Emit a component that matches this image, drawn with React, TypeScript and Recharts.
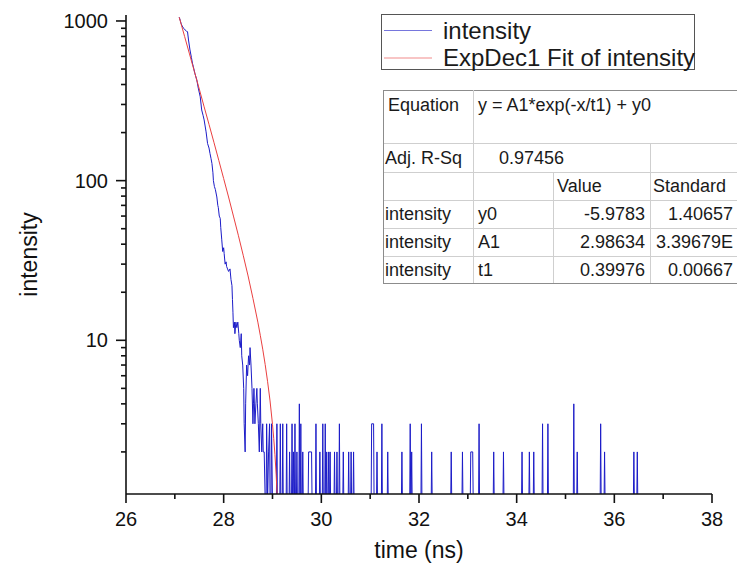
import React from 'react';
import { LineChart, Line, XAxis, YAxis } from 'recharts';

const FONT = '"Liberation Sans", Arial, Helvetica, sans-serif';
const BLUE = '#1c1cc8';
const RED = '#ea4040';
const AXIS = '#111111';

const xTicks = [26, 27, 28, 29, 30, 31, 32, 33, 34, 35, 36, 37, 38];
const xLabeledTicks = [26, 28, 30, 32, 34, 36, 38];
const yTicks = [2, 3, 4, 5, 6, 7, 8, 9, 10, 20, 30, 40, 50, 60, 70, 80, 90, 100, 200, 300, 400, 500, 600, 700, 800, 900, 1000];
const yLabeledTicks = [10, 100, 1000];
const xDomain = [26, 38];
const yDomain = [1.09, 1090];

const xTitle = 'time (ns)';
const yTitle = 'intensity';
const legendLabels = ['intensity', 'ExpDec1 Fit of intensity'];

const equationText = 'y = A1*exp(-x/t1) + y0';
const adjRSq = '0.97456';
const paramRowNames = ['intensity', 'intensity', 'intensity'];
const paramNames = ['y0', 'A1', 't1'];
const paramValues = ['-5.9783', '2.98634', '0.39976'];
const paramErrors = ['1.40657', '3.39679E', '0.00667'];

// measured counts (time ns, counts); baseline counts (0) drawn at 1, below the axis
const decayPoints: [number, number][] = [
  [27.09, 1055], [27.11, 1010], [27.13, 960], [27.15, 930], [27.18, 900], [27.21, 879], [27.24, 862], [27.26, 857],
  [27.28, 760], [27.31, 658], [27.34, 590], [27.36, 545], [27.38, 516], [27.41, 470], [27.45, 427], [27.48, 380],
  [27.52, 335], [27.55, 277], [27.58, 255], [27.6, 240], [27.62, 220], [27.64, 202], [27.67, 171], [27.7, 160],
  [27.72, 148], [27.74, 138], [27.76, 128], [27.78, 112], [27.79, 100], [27.81, 92], [27.83, 88], [27.86, 79],
  [27.88, 70], [27.89, 68], [27.91, 60], [27.93, 58], [27.94, 51], [27.96, 43], [27.98, 36], [28.0, 38],
  [28.01, 35], [28.03, 30], [28.05, 31], [28.06, 29], [28.08, 28], [28.1, 27], [28.13, 28], [28.15, 24],
  [28.17, 22], [28.18, 18], [28.19, 15], [28.2, 12], [28.22, 13], [28.23, 11], [28.25, 13], [28.27, 12],
  [28.29, 13], [28.31, 11], [28.32, 10], [28.34, 9], [28.36, 11], [28.37, 8], [28.39, 7], [28.41, 5],
  [28.42, 3], [28.44, 2], [28.45, 4], [28.47, 7], [28.49, 6], [28.51, 8], [28.53, 7], [28.54, 9],
  [28.56, 7], [28.58, 5], [28.6, 3], [28.61, 4], [28.62, 5], [28.64, 3], [28.66, 4], [28.68, 5],
  [28.69, 4], [28.71, 3], [28.73, 2], [28.75, 5], [28.76, 3], [28.78, 2], [28.8, 3], [28.81, 2],
  [28.83, 2], [28.85, 1], [28.87, 1], [28.88, 3], [28.9, 1], [28.92, 2], [28.94, 3], [28.95, 1],
  [28.97, 1], [28.98, 3], [29.0, 1],
];

const tailPoints: [number, number][] = [
  [29.08, 1], [29.09, 3], [29.1, 1], [29.15, 1], [29.16, 3], [29.17, 1], [29.2, 1], [29.21, 3], [29.22, 1],
  [29.28, 1], [29.29, 3], [29.3, 1], [29.34, 1], [29.35, 2], [29.36, 1], [29.39, 1], [29.4, 3], [29.41, 1],
  [29.42, 1], [29.43, 2], [29.44, 1], [29.45, 1], [29.46, 3], [29.47, 1], [29.49, 1], [29.5, 2], [29.51, 1],
  [29.54, 1], [29.55, 4], [29.56, 1], [29.57, 1], [29.58, 3], [29.59, 1], [29.61, 1], [29.62, 2], [29.63, 1],
  [29.73, 1], [29.74, 2], [29.8, 2], [29.81, 1], [29.88, 1], [29.89, 3], [29.9, 1], [29.96, 1], [29.97, 2],
  [29.98, 1], [30.02, 1], [30.03, 3], [30.04, 1], [30.07, 1], [30.08, 3], [30.09, 1], [30.1, 1], [30.11, 2],
  [30.12, 1], [30.14, 1], [30.15, 2], [30.16, 1], [30.17, 1], [30.18, 2], [30.19, 1], [30.26, 1], [30.27, 2],
  [30.28, 1], [30.31, 1], [30.32, 2], [30.33, 1], [30.36, 1], [30.37, 3], [30.38, 1], [30.44, 1], [30.45, 2],
  [30.46, 1], [30.55, 1], [30.56, 2], [30.57, 1], [30.6, 1], [30.61, 2], [30.62, 1], [30.65, 1], [30.66, 2],
  [30.67, 1], [31.02, 1], [31.03, 3], [31.07, 3], [31.08, 1], [31.13, 1], [31.14, 2], [31.15, 1], [31.23, 1],
  [31.24, 3], [31.25, 1], [31.35, 1], [31.36, 2], [31.37, 1], [31.64, 1], [31.65, 2], [31.66, 1], [31.81, 1],
  [31.82, 3], [31.83, 1], [31.84, 1], [31.85, 2], [31.86, 1], [32.04, 1], [32.05, 3], [32.06, 1], [32.25, 1],
  [32.26, 2], [32.27, 1], [32.65, 1], [32.66, 2], [32.67, 1], [32.88, 1], [32.89, 2], [32.9, 1], [33.05, 1],
  [33.06, 2], [33.1, 2], [33.11, 1], [33.22, 1], [33.23, 3], [33.24, 1], [33.52, 1], [33.53, 2], [33.54, 1],
  [33.72, 1], [33.73, 2], [33.74, 1], [34.1, 1], [34.11, 2], [34.12, 1], [34.25, 1], [34.26, 2], [34.27, 1],
  [34.34, 1], [34.35, 2], [34.36, 1], [34.52, 1], [34.53, 3], [34.54, 1], [34.63, 1], [34.64, 3], [34.65, 1],
  [35.16, 1], [35.17, 4], [35.18, 1], [35.23, 1], [35.24, 2], [35.25, 1], [35.71, 1], [35.72, 3], [35.73, 1],
  [35.79, 1], [35.8, 2], [35.81, 1], [36.39, 1], [36.4, 2], [36.41, 1], [36.46, 1], [36.47, 2], [36.48, 1],
  [36.5, 1],
];

// ExpDec1 fit curve
const fitPoints: [number, number][] = [
  [27.09, 1055], [27.2, 800], [27.3, 622], [27.4, 483], [27.5, 375], [27.6, 290], [27.7, 225], [27.8, 174],
  [27.9, 134], [28.0, 103], [28.1, 79], [28.2, 60], [28.3, 45.5], [28.4, 34.1], [28.5, 25.3], [28.6, 18.3],
  [28.7, 13.0], [28.75, 10.75], [28.8, 8.8], [28.85, 7.05], [28.9, 5.5], [28.95, 4.17], [29.0, 2.97],
  [29.025, 2.43], [29.05, 1.92], [29.075, 1.44], [29.1, 0.99],
];

const intensityData = [...decayPoints, ...tailPoints].map(([t, v]) => ({ t, v }));
const fitData = fitPoints.map(([t, v]) => ({ t, v }));

const W = 737;
const H = 555;
const MARGIN = { top: 7, right: 33, bottom: 39, left: 58 };
const Y_AXIS_W = 60;
const PLOT_LEFT = MARGIN.left + Y_AXIS_W;
const PLOT_RIGHT = W - MARGIN.right;
const PLOT_TOP = MARGIN.top;
const PLOT_BOTTOM = H - MARGIN.bottom - 30;

const XTick = (props: any) => {
  const { x, y, payload } = props;
  const v = payload.value;
  const major = xLabeledTicks.includes(v);
  return (
    <g>
      <line x1={x} y1={y} x2={x} y2={y + (major ? 9 : 5)} stroke={AXIS} strokeWidth={1.6} />
      {major && (
        <text x={x} y={y + 25} dominantBaseline="central" textAnchor="middle" fontSize={20} fontFamily={FONT} fill="#111">
          {v}
        </text>
      )}
    </g>
  );
};

const YTick = (props: any) => {
  const { x, y, payload } = props;
  const v = payload.value;
  const major = yLabeledTicks.includes(v);
  return (
    <g>
      <line x1={x} y1={y} x2={x - (major ? 10 : 5)} y2={y} stroke={AXIS} strokeWidth={1.6} />
      {major && (
        <text x={x - 18} y={y} dominantBaseline="central" textAnchor="end" fontSize={20} fontFamily={FONT} fill="#111">
          {v}
        </text>
      )}
    </g>
  );
};

const XTitle = () => (
  <text x={(PLOT_LEFT + PLOT_RIGHT) / 2} y={PLOT_BOTTOM + 56} dominantBaseline="central" textAnchor="middle" fontSize={23} fontFamily={FONT} fill="#111">
    {xTitle}
  </text>
);

const YTitle = () => (
  <text
    transform={`translate(21, ${(PLOT_TOP + PLOT_BOTTOM) / 2}) rotate(-90)`}
    dominantBaseline="central"
    textAnchor="middle"
    fontSize={23}
    fontFamily={FONT}
    fill="#111"
  >
    {yTitle}
  </text>
);

const Overlay = () => {
  const tl = 375;
  const colX = [375, 465, 545, 642];
  const right = 735;
  const rowY = [82, 135, 164, 192, 220, 248, 275];
  const inner = '#cfcfcf';
  const outer = '#8c8c8c';
  const fs = 18;
  const mid = (i: number) => (rowY[i] + rowY[i + 1]) / 2;
  const legendColors = [BLUE, RED];
  return (
    <svg width={W} height={H} style={{ position: 'absolute', left: 0, top: 0, pointerEvents: 'none' }}>
      {/* legend */}
      <rect x={373.5} y={6.5} width={313} height={55} fill="#fff" stroke="#555" strokeWidth={1} />
      {legendLabels.map((lab, i) => (
        <g key={lab}>
          <line x1={376} x2={424} y1={22.5 + i * 27.5} y2={22.5 + i * 27.5} stroke={legendColors[i]} strokeWidth={1} opacity={0.6} />
          <text x={435} y={22 + i * 27.5} dominantBaseline="central" fontSize={24} fontFamily={FONT} fill="#1a1a1a">
            {lab}
          </text>
        </g>
      ))}
      {/* table */}
      <rect x={tl} y={rowY[0]} width={W - tl} height={rowY[6] - rowY[0]} fill="#fff" />
      {rowY.slice(1, 6).map((y) => (
        <line key={y} x1={tl} x2={W} y1={y + 0.5} y2={y + 0.5} stroke={inner} strokeWidth={1} />
      ))}
      <line x1={tl} x2={W} y1={rowY[0] + 0.5} y2={rowY[0] + 0.5} stroke={outer} strokeWidth={1} />
      <line x1={tl} x2={W} y1={rowY[6] + 0.5} y2={rowY[6] + 0.5} stroke={outer} strokeWidth={1} />
      <line x1={tl + 0.5} x2={tl + 0.5} y1={rowY[0]} y2={rowY[6]} stroke={outer} strokeWidth={1} />
      <line x1={colX[1] + 0.5} x2={colX[1] + 0.5} y1={rowY[0]} y2={rowY[6]} stroke={inner} strokeWidth={1} />
      <line x1={colX[2] + 0.5} x2={colX[2] + 0.5} y1={rowY[2]} y2={rowY[6]} stroke={inner} strokeWidth={1} />
      <line x1={colX[3] + 0.5} x2={colX[3] + 0.5} y1={rowY[1]} y2={rowY[6]} stroke={inner} strokeWidth={1} />
      <line x1={right + 0.5} x2={right + 0.5} y1={rowY[0]} y2={rowY[1]} stroke={inner} strokeWidth={1} />
      <g fontSize={fs} fontFamily={FONT} fill="#1a1a1a">
        <text x={380} y={97} dominantBaseline="central">Equation</text>
        <text x={470} y={97} dominantBaseline="central">{equationText}</text>
        <text x={377} y={mid(1)} dominantBaseline="central">Adj. R-Sq</text>
        <text x={556} y={mid(1)} dominantBaseline="central" textAnchor="end">{adjRSq}</text>
        <text x={549} y={mid(2)} dominantBaseline="central">Value</text>
        <text x={645} y={mid(2)} dominantBaseline="central">Standard</text>
        {paramNames.map((p, i) => (
          <g key={p}>
            <text x={377} y={mid(3 + i)} dominantBaseline="central">{paramRowNames[i]}</text>
            <text x={470} y={mid(3 + i)} dominantBaseline="central">{p}</text>
            <text x={637} y={mid(3 + i)} dominantBaseline="central" textAnchor="end">{paramValues[i]}</text>
            <text x={725} y={mid(3 + i)} dominantBaseline="central" textAnchor="end">{paramErrors[i]}</text>
          </g>
        ))}
      </g>
    </svg>
  );
};

export default function App() {
  return (
    <div style={{ position: 'relative', width: W, height: H, overflow: 'hidden', background: '#fff' }}>
      <LineChart width={W} height={H} margin={MARGIN}>
        <XAxis
          dataKey="t"
          type="number"
          domain={xDomain}
          ticks={xTicks}
          interval={0}
          allowDataOverflow
          tickSize={0}
          tickMargin={0}
          tickLine={false}
          axisLine={{ stroke: AXIS, strokeWidth: 1.6 }}
          tick={XTick}
          label={XTitle}
        />
        <YAxis
          type="number"
          scale="log"
          domain={yDomain}
          ticks={yTicks}
          interval={0}
          allowDataOverflow
          width={Y_AXIS_W}
          tickSize={0}
          tickMargin={0}
          tickLine={false}
          axisLine={{ stroke: AXIS, strokeWidth: 1.6 }}
          tick={YTick}
          label={YTitle}
        />
        <Line data={intensityData} dataKey="v" type="linear" stroke={BLUE} strokeWidth={1} dot={false} activeDot={false} isAnimationActive={false} />
        <Line data={fitData} dataKey="v" type="linear" stroke={RED} strokeWidth={1} dot={false} activeDot={false} isAnimationActive={false} />
      </LineChart>
      <Overlay />
    </div>
  );
}
